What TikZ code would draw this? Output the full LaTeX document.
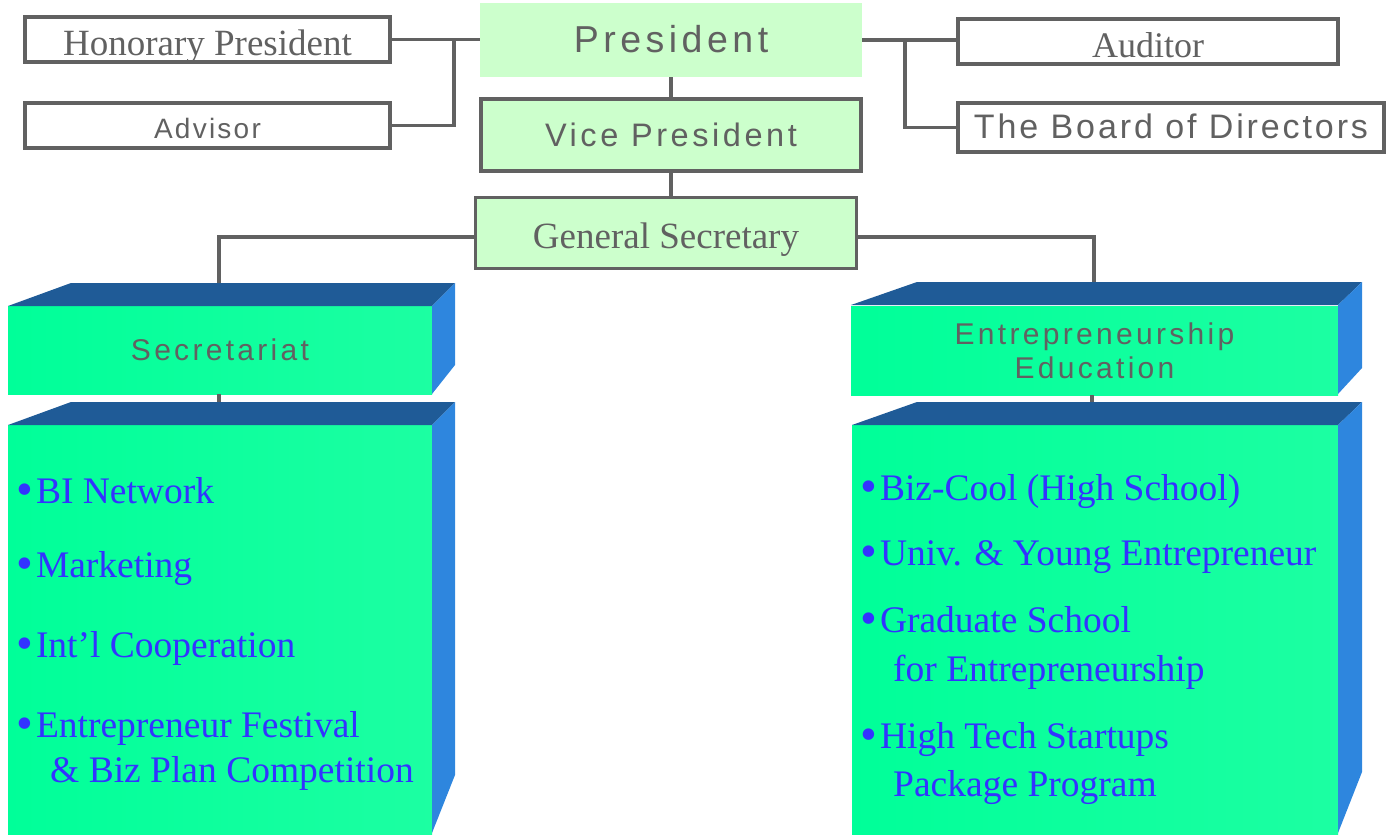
\documentclass[tikz,border=0pt]{standalone}
\usepackage{fontspec}
\setmainfont{Liberation Serif}
\newfontfamily\sfAdv[LetterSpace=8]{Liberation Sans}
\newfontfamily\sfPres[LetterSpace=12]{Liberation Sans}
\newfontfamily\sfVP[LetterSpace=11]{Liberation Sans}
\newfontfamily\sfBoard[LetterSpace=8.5]{Liberation Sans}
\newfontfamily\sfHead[LetterSpace=11]{Liberation Sans}
\usetikzlibrary{calc}
\definecolor{lg}{HTML}{CCFFCC}
\definecolor{ln}{HTML}{616161}
\definecolor{fr}{HTML}{00FF99}
\definecolor{frr}{HTML}{1CFFA2}
\definecolor{tp}{HTML}{1F5B97}
\definecolor{sd}{HTML}{2E86DE}
\definecolor{bl}{HTML}{3333FF}
\newcommand\bul{\raisebox{-2.5pt}{\fontsize{48}{48}\selectfont •}\hspace{3pt}}
\tikzset{
  wbox/.style={draw=ln, line width=3.5pt, fill=white, inner sep=0pt, text=ln, text depth=0pt},
  gbox/.style={wbox, fill=lg},
  conn/.style={draw=ln, line width=3.5pt},
  front/.style={inner sep=0pt, left color=fr, right color=frr, text=ln},
  topface/.style={fill=tp},
  sideface/.style={fill=sd},
  item/.style={anchor=base west, inner sep=0pt, text=bl, font=\fontsize{37.5}{40}\selectfont},
}
\begin{document}
\begin{tikzpicture}[x=1pt,y=-1pt]
\useasboundingbox (0,0) rectangle (1389,835);

% top level boxes
\node[wbox, minimum width=365pt, minimum height=45pt, text height=31pt,
      font=\fontsize{37}{40}\selectfont] (hon) at (207.5,39.5) {Honorary President};
\node[wbox, minimum width=365pt, minimum height=45pt, text height=25pt,
      font={\sfAdv\fontsize{28}{32}\selectfont}] (adv) at (207.5,125.5) {Advisor};
\node[inner sep=0pt, fill=lg, text=ln, minimum width=382pt, minimum height=74pt,
      text height=24pt, text depth=0pt,
      font={\sfPres\fontsize{37.5}{40}\selectfont}] (pres) at (671,40) {President};
\node[gbox, minimum width=380pt, minimum height=72pt, text height=23pt,
      font={\sfVP\fontsize{32.5}{36}\selectfont}] (vp) at (671,135) {Vice President};
\node[gbox, minimum width=381pt, minimum height=71pt, text height=30pt,
      font=\fontsize{37}{40}\selectfont] (gs) at (666,233) {General Secretary\hspace{11pt}};
\node[wbox, minimum width=380pt, minimum height=45pt, text height=31pt,
      font=\fontsize{36}{40}\selectfont] (aud) at (1148,41.5) {Auditor};
\node[wbox, minimum width=426pt, minimum height=49pt, text height=22pt,
      font={\sfBoard\fontsize{34}{36}\selectfont}] (board) at (1171,127.5) {The Board of Directors};

% connectors among top boxes
\coordinate (jl) at ([xshift=62pt]adv.east |- hon.east);
\coordinate (jr) at (905,40);
\draw[conn] (hon.east) -- (hon.east -| pres.west);
\draw[conn] (adv.east) -| (jl);
\draw[conn] (pres.east) -- (pres.east -| aud.west);
\draw[conn] (jr) |- (board.west);
\draw[conn] (pres.south) -- (vp.north);
\draw[conn] (vp.south) -- (vp.south |- gs.north);

% 3D header boxes
\coordinate (sectop) at (219,283);
\coordinate (enttop) at (1094,282);
\draw[conn] ([yshift=-4pt]gs.west) -| (sectop);
\draw[conn] ([yshift=-4pt]gs.east) -| (enttop);

\node[front, minimum width=424pt, minimum height=88pt, text height=21pt, text depth=0pt,
      font={\sfHead\fontsize{30}{34}\selectfont}] (secf) at (220,350) {Secretariat};
\fill[topface] (8,306) -- (71,283) -- (455,283) -- (432,306) -- cycle;
\fill[sideface] (432,306) -- (455,283) -- (455,365) -- (432,394) -- cycle;

\node[front, minimum width=487pt, minimum height=89pt, align=center,
      font={\sfHead\fontsize{30}{34}\selectfont}] (entf) at (1094.5,350.5)
      {Entrepreneurship\\Education};
\fill[topface] (851,305) -- (917,282) -- (1362,282) -- (1338,305) -- cycle;
\fill[sideface] (1338,305) -- (1362,282) -- (1362,368) -- (1338,394) -- cycle;

% item boxes
\coordinate (secit) at (219,402);
\coordinate (entit) at (1092,402);
\draw[conn] (secf.south -| secit) -- (secit);
\draw[conn] (entf.south -| entit) -- (entit);

\node[front, minimum width=424pt, minimum height=410pt] (secitems) at (220,630) {};
\fill[topface] (8,425) -- (71,402) -- (455,402) -- (432,425) -- cycle;
\fill[sideface] (432,425) -- (455,402) -- (455,775) -- (432,833) -- cycle;

\node[front, minimum width=486pt, minimum height=410pt] (entitems) at (1095,630) {};
\fill[topface] (852,425) -- (917,402) -- (1362,402) -- (1338,425) -- cycle;
\fill[sideface] (1338,425) -- (1362,402) -- (1362,772) -- (1338,833) -- cycle;

% items, left
\node[item] (l1) at (16,503) {\bul BI Network};
\node[item] (l2) at (16,577) {\bul Marketing};
\node[item] (l3) at (16,657) {\bul Int’l Cooperation};
\node[item] (l4) at (16,737) {\bul Entrepreneur Festival};
\node[item] (l5) at (50,782) {\& Biz Plan Competition};

% items, right
\node[item] (r1) at (860,500) {\bul Biz-Cool (High School)};
\node[item] (r2) at (860,565) {\bul Univ. \& Young Entrepreneur};
\node[item] (r3) at (860,632) {\bul Graduate School};
\node[item] (r4) at (893,681) {for Entrepreneurship};
\node[item] (r5) at (860,748) {\bul High Tech Startups};
\node[item] (r6) at (893,796) {Package Program};
\end{tikzpicture}
\end{document}
